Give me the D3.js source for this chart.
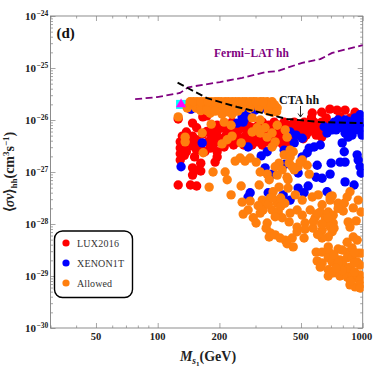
<!DOCTYPE html>
<html><head><meta charset="utf-8">
<script src="https://cdn.jsdelivr.net/npm/d3@7"></script>
<style>html,body{margin:0;padding:0;background:#fff}svg{display:block}text{font-family:"Liberation Serif",serif}</style>
</head><body><svg id="c" width="374" height="370"></svg>
<script>
// values are [log10(mass / GeV), log10(<sigma v> / cm^3 s^-1)]
const fermiLine=[[1.89,-25.60],[1.997,-25.56],[2.109,-25.48],[2.149,-25.37],[2.304,-25.27],[2.412,-25.19],[2.524,-25.08],[2.583,-25.06],[2.705,-24.90],[2.793,-24.83],[2.851,-24.71],[3,-24.56]];
const ctaLine=[[2.097,-25.28],[2.144,-25.38],[2.241,-25.58],[2.388,-25.75],[2.548,-25.90],[2.631,-25.98],[2.793,-26.04],[3,-26.06]];
const redPoints=[[2.10,-25.98],[2.10,-27.25],[2.16,-27.25],[2.19,-27.27],[2.17,-27.06],[2.20,-26.96],[2.17,-26.92],[2.21,-26.98],[2.18,-26.71],[2.21,-26.83],[2.28,-26.81],[2.29,-26.61],[2.29,-26.71],[2.23,-26.61],[2.17,-26.06],[2.19,-26.15],[2.22,-25.94],[2.24,-25.92],[2.16,-25.79],
[2.11,-26.77],[2.11,-26.65],[2.11,-26.54],[2.11,-26.42],[2.12,-26.31],[2.14,-26.23],[2.13,-26.50],[2.15,-26.38],[2.14,-26.61],[2.17,-26.31],[2.17,-26.50],[2.19,-26.38],[2.19,-26.58],[2.22,-26.27],[2.25,-26.23],
[2.266,-26.15],[2.314,-26.15],[2.363,-26.15],[2.412,-26.15],[2.461,-26.15],[2.510,-26.15],[2.558,-26.15],[2.607,-26.15],[2.656,-26.15],[2.705,-26.15],[2.754,-26.15],
[2.285,-26.29],[2.334,-26.29],[2.383,-26.29],[2.431,-26.29],[2.480,-26.29],[2.529,-26.29],[2.578,-26.29],[2.627,-26.29],[2.675,-26.29],[2.724,-26.29],[2.773,-26.29],
[2.246,-26.42],[2.295,-26.42],[2.344,-26.42],[2.392,-26.42],[2.441,-26.42],[2.490,-26.42],[2.539,-26.42],[2.588,-26.42],[2.637,-26.42],
[2.363,-26.04],[2.426,-26.04],[2.51,-26.04],[2.568,-26.04],[2.617,-26.04],[2.666,-26.04],[2.715,-26.04],[2.763,-26.04],[2.80,-26.04],
[2.256,-26.54],[2.324,-26.52],[2.51,-26.48],[2.612,-26.48],[2.80,-26.33],[2.817,-26.10],[2.75,-25.96],
[2.754,-25.865],[2.80,-25.85],[2.84,-25.79],[2.875,-25.81],[2.914,-25.81],[2.963,-25.85],[2.822,-25.96],[2.89,-25.94],[2.94,-25.96],
[2.29,-26.10],[2.34,-26.10],[2.39,-26.10],[2.44,-26.10],[2.49,-26.10],[2.54,-26.10],[2.59,-26.10],[2.64,-26.10],[2.69,-26.10],[2.74,-26.10],[2.78,-26.10],
[2.24,-26.22],[2.29,-26.22],[2.34,-26.22],[2.39,-26.22],[2.44,-26.22],[2.49,-26.22],[2.54,-26.22],[2.59,-26.22],[2.64,-26.22],[2.69,-26.22],[2.74,-26.22],[2.79,-26.22],
[2.26,-26.36],[2.31,-26.36],[2.36,-26.36],[2.41,-26.36],[2.46,-26.36],[2.51,-26.36],[2.56,-26.36],[2.61,-26.36],[2.66,-26.36],[2.71,-26.36],
[2.27,-26.48],[2.32,-26.48],[2.37,-26.48],[2.42,-26.48],[2.46,-26.48],[2.56,-26.48],
[2.13,-26.36],[2.13,-26.68],[2.16,-26.44],[2.21,-26.44],[2.21,-26.52]];
const bluePoints=[[2.114,-26.90],[2.163,-25.79],[2.217,-26.44],[2.441,-26.52],[2.412,-25.94],[2.388,-26.06],[2.417,-26.04],[2.441,-25.94],[2.353,-25.77],[2.42,-25.865],[2.475,-25.81],[2.51,-25.77],[2.534,-26.61],[2.505,-26.69],[2.524,-26.92],[2.558,-27.04],[2.622,-26.85],[2.617,-26.58],[2.646,-26.23],[2.675,-26.29],[2.705,-26.35],[2.666,-26.44],[2.739,-26.54],[2.763,-26.52],[2.793,-26.48],[2.685,-27.02],[2.705,-26.71],[2.729,-26.63],[2.778,-26.87],[2.846,-26.83],[2.841,-27.04],[2.802,-27.12],[2.773,-27.10],[2.89,-26.81],[2.914,-26.81],[2.914,-27.19],[2.958,-27.25],[2.978,-26.77],[2.992,-27.02],[2.973,-26.67],[2.90,-26.44],[2.91,-26.61],[2.987,-26.90],[2.734,-27.27],[2.685,-27.31],[2.714,-27.40],[2.612,-27.44],[2.646,-27.54],[2.826,-27.38],[2.539,-27.40],[2.451,-27.40],[2.441,-27.48],[2.812,-26.13],[2.826,-26.25],[2.851,-26.19],
[2.889,-26.10],[2.914,-26.0],[2.938,-26.15],[2.963,-25.96],[2.987,-25.90],[2.997,-26.04],[2.978,-26.19],[2.914,-26.25],[2.870,-26.19],[2.948,-26.29],[2.997,-26.29],[2.90,-26.15],[2.929,-26.33],[2.88,-26.0],[2.968,-26.10],[2.861,-26.04],[2.93,-26.03],[2.95,-26.2],[2.88,-26.1],[2.99,-26.15],[2.92,-26.17],[2.85,-26.1]];
const orangePoints=[[2.158,-25.65],[2.192,-25.65],[2.227,-25.65],[2.261,-25.65],[2.295,-25.65],[2.329,-25.65],[2.363,-25.65],[2.397,-25.65],[2.431,-25.65],[2.466,-25.65],[2.5,-25.65],[2.534,-25.65],[2.558,-25.65],
[2.144,-25.77],[2.187,-25.77],[2.231,-25.77],[2.275,-25.77],[2.319,-25.77],[2.363,-25.77],[2.407,-25.77],[2.451,-25.77],[2.495,-25.77],[2.539,-25.77],[2.583,-25.77],
[2.256,-25.87],[2.314,-25.89],[2.363,-25.89],[2.558,-25.85],
[2.176,-25.71],[2.21,-25.71],[2.25,-25.71],[2.29,-25.71],[2.33,-25.71],[2.37,-25.71],[2.41,-25.71],[2.45,-25.71],[2.49,-25.71],[2.53,-25.71],[2.57,-25.71],
[2.175,-25.65],[2.21,-25.65],[2.245,-25.65],[2.28,-25.65],[2.31,-25.65],[2.345,-25.65],[2.38,-25.65],[2.415,-25.65],[2.45,-25.65],[2.48,-25.65],[2.515,-25.65],
[2.21,-25.82],[2.24,-25.82],[2.28,-25.83],[2.34,-25.84],[2.39,-25.83],[2.54,-25.83],[2.58,-25.84],
[2.10,-25.94],[2.217,-26.25],[2.134,-26.33],[2.134,-26.42],[2.222,-26.63],[2.261,-26.08],[2.324,-26.04],[2.358,-26.10],[2.314,-26.46],[2.339,-26.38],[2.363,-26.31],[2.407,-26.44],[2.402,-26.73],[2.378,-26.79],[2.426,-26.79],[2.451,-26.73],[2.27,-27.0],[2.329,-27.0],[2.339,-27.15],[2.251,-27.29],[2.407,-27.27],[2.358,-27.44],[2.412,-27.58],[2.417,-27.81],[2.441,-27.73],[2.461,-25.96],[2.5,-26.0],[2.524,-26.15],[2.485,-26.15],[2.583,-26.10],[2.558,-26.25],[2.622,-26.19],[2.631,-26.33],[2.534,-26.33],[2.5,-26.25],[2.461,-26.23],[2.573,-26.42],[2.558,-26.52],[2.617,-26.67],[2.646,-26.58],[2.641,-26.83],[2.666,-26.96],[2.705,-26.77],[2.729,-26.87],[2.685,-26.90],[2.646,-26.71],[2.592,-26.83],[2.573,-26.90],[2.583,-27.06],[2.631,-27.10],[2.739,-27.04],[2.48,-26.81],[2.5,-27.0],[2.534,-27.04],[2.607,-26.96],[2.661,-26.61],[2.695,-26.81],[2.656,-26.90],[2.636,-27.15],[2.636,-27.31],[2.592,-27.29],[2.563,-27.38],[2.495,-27.25],[2.544,-27.15],[2.671,-27.44],[2.705,-27.54],[2.754,-27.48],[2.783,-27.44],[2.841,-27.48],[2.938,-27.38],[2.924,-27.48],[2.978,-27.54],[2.954,-27.69],[2.992,-27.77],
[2.451,-27.56],[2.5,-27.79],[2.466,-27.88],[2.48,-27.98],[2.51,-27.54],[2.524,-27.63],[2.549,-27.50],[2.583,-27.60],[2.514,-27.73],[2.558,-27.73],[2.588,-27.77],[2.607,-27.88],[2.573,-27.86],[2.646,-27.79],[2.68,-27.73],[2.705,-27.83],[2.744,-27.73],[2.768,-27.88],[2.802,-27.63],[2.793,-27.77],[2.832,-27.77],[2.856,-27.83],[2.817,-27.88],[2.641,-27.96],[2.68,-28.06],[2.68,-28.15],[2.719,-27.98],[2.719,-28.10],[2.758,-28.08],[2.802,-28.12],[2.826,-27.98],[2.856,-27.98],[2.851,-28.15],[2.832,-28.25],[2.802,-28.27],[2.714,-28.27],[2.534,-27.98],[2.529,-28.08],[2.549,-28.17],[2.544,-28.25],[2.573,-28.21],[2.597,-28.27],[2.622,-28.31],[2.656,-28.27],[2.631,-28.38],[2.661,-28.44],[2.929,-27.96],[2.938,-28.06],[2.968,-27.94],[2.88,-27.60],[2.91,-27.60],[2.905,-27.75],[2.841,-27.54],[2.851,-27.46],[2.954,-28.25],[2.924,-28.35],[2.973,-28.31],[2.88,-28.48],[2.832,-28.44],[2.773,-28.54],[2.802,-28.54],[2.841,-28.56],[2.832,-28.65],[2.778,-28.71],[2.802,-28.75],[2.793,-28.83],[2.851,-28.73],[2.889,-28.69],[2.924,-28.54],[2.948,-28.46],[2.924,-28.65],[2.948,-28.65],[2.978,-28.56],[2.992,-28.56],[2.973,-28.73],[2.905,-28.79],[2.938,-28.83],[2.987,-28.79],[2.832,-28.88],[2.832,-29.0],[2.856,-28.94],[2.889,-29.0],[2.924,-28.88],[2.924,-29.02],[2.948,-29.02],[2.963,-29.04],[2.987,-28.98],[2.987,-29.08],[2.938,-29.17],[2.963,-29.21],[2.987,-29.17],[2.987,-29.23],
[2.54,-27.62],[2.6,-27.66],[2.62,-27.6],[2.56,-27.5],[2.49,-27.65],[2.6,-27.5],
[2.86,-28.6],[2.88,-28.75],[2.9,-28.5],[2.96,-28.55],[2.96,-28.75],[2.9,-28.9],[2.87,-28.85],[2.96,-28.92],[2.94,-29.1],
[2.83,-27.88],[2.84,-28.05],[2.88,-27.7],[2.78,-27.8],[2.8,-28.0],[2.76,-27.95],[2.86,-28.08],[2.78,-28.2]];
const benchmark=[2.114,-25.70];
const xMajor=[50,100,200,500,1000];
const xMinor=[30,40,60,70,80,90,300,400,600,700,800,900];
const yExponents=[-24,-25,-26,-27,-28,-29,-30];
const legendItems=[["LUX2016","#ff0000"],["XENON1T","#0000ff"],["Allowed","#ff7f0e"]];

const L=50.5,R=362.7,T=16,B=328;
const x=d3.scaleLog().domain([30,1000]).range([L,R]);
const y=d3.scaleLog().domain([1e-30,1e-24]).range([B,T]);
const px=d=>x(Math.pow(10,d[0])), py=d=>y(Math.pow(10,d[1]));
const svg=d3.select("#c");
const AX="#808080";
svg.append("defs").append("clipPath").attr("id","plot").append("rect").attr("x",L).attr("y",T).attr("width",R-L+1).attr("height",B-T);

const yMinor=[];yExponents.slice(1).forEach(e=>{for(let k=2;k<10;k++)yMinor.push(k*Math.pow(10,e));});
function axisG(a,tr){const g=svg.append("g").attr("transform",tr).call(a);
  g.selectAll("path.domain").remove();g.selectAll("line").attr("stroke",AX).attr("stroke-width",0.7);g.selectAll("text").remove();return g;}
const empty=()=>"";
axisG(d3.axisBottom(x).tickValues(xMajor).tickSize(-5).tickFormat(empty),`translate(0,${B})`);
axisG(d3.axisBottom(x).tickValues(xMinor).tickSize(-2.5).tickFormat(empty),`translate(0,${B})`);
axisG(d3.axisTop(x).tickValues(xMajor).tickSize(-5).tickFormat(empty),`translate(0,${T})`);
axisG(d3.axisTop(x).tickValues(xMinor).tickSize(-2.5).tickFormat(empty),`translate(0,${T})`);
const yMajor=yExponents.map(e=>Math.pow(10,e));
axisG(d3.axisLeft(y).tickValues(yMajor).tickSize(-5).tickFormat(empty),`translate(${L},0)`);
axisG(d3.axisLeft(y).tickValues(yMinor).tickSize(-2.5).tickFormat(empty),`translate(${L},0)`);
axisG(d3.axisRight(y).tickValues(yMajor).tickSize(-5).tickFormat(empty),`translate(${R},0)`);
axisG(d3.axisRight(y).tickValues(yMinor).tickSize(-2.5).tickFormat(empty),`translate(${R},0)`);
svg.append("rect").attr("x",L).attr("y",T).attr("width",R-L).attr("height",B-T).attr("fill","none").attr("stroke",AX).attr("stroke-width",0.9);

const data=svg.append("g").attr("clip-path","url(#plot)");
const RAD=4.7;
[[redPoints,"#ff0000"],[bluePoints,"#0000ff"]].forEach(([arr,c])=>{
  data.append("g").selectAll("circle").data(arr).join("circle").attr("cx",px).attr("cy",py).attr("r",RAD).attr("fill",c);});
data.append("rect").attr("x",px(benchmark)-5).attr("y",py(benchmark)-4.5).attr("width",10).attr("height",9).attr("fill","#00ffff");
data.append("g").selectAll("circle").data(orangePoints).join("circle").attr("cx",px).attr("cy",py).attr("r",RAD).attr("fill","#ff7f0e");
data.append("path").attr("d",d3.symbol(d3.symbolTriangle,45)()).attr("transform",`translate(${px(benchmark)},${py(benchmark)})`).attr("fill","#ff00ff");

const line=d3.line().x(px).y(py);
data.append("path").datum(fermiLine).attr("d",line).attr("fill","none").attr("stroke","#800080").attr("stroke-width",1.8).attr("stroke-dasharray","7 3.5");
data.append("path").datum(ctaLine).attr("d",line).attr("fill","none").attr("stroke","#000").attr("stroke-width",1.9).attr("stroke-dasharray","7 3.5");

// tick labels
svg.append("g").selectAll("text").data(xMajor).join("text").attr("x",d=>d===1000?x(d)-1:x(d)).attr("y",340).attr("text-anchor","middle").attr("font-size",10.5).attr("font-weight","bold").attr("fill","#222").text(d=>d);
const yl=svg.append("g").selectAll("text").data(yExponents).join("text").attr("x",25).attr("y",e=>y(Math.pow(10,e))+3.5).attr("font-size",11).attr("font-weight","bold").attr("fill","#222");
yl.append("tspan").text("10");
yl.append("tspan").attr("font-size",7.5).attr("dy",-4).attr("dx",0.5).text(e=>"\u2212"+Math.abs(e));

// titles
const yt=svg.append("text").attr("transform","translate(14,172) rotate(-90)").attr("text-anchor","middle").attr("font-size",14).attr("font-weight","bold").attr("fill","#222");
yt.append("tspan").text("\u27E8");
yt.append("tspan").attr("font-style","italic").text("\u03C3v");
yt.append("tspan").text("\u27E9");
yt.append("tspan").attr("font-size",9).attr("dy",3).text("hh");
yt.append("tspan").attr("dy",-3).text("(cm");
yt.append("tspan").attr("font-size",9).attr("dy",-5).text("3");
yt.append("tspan").attr("dy",5).text("s");
yt.append("tspan").attr("font-size",9).attr("dy",-5).text("\u22121");
yt.append("tspan").attr("dy",5).text(")");
const xt=svg.append("text").attr("x",208).attr("y",361).attr("text-anchor","middle").attr("font-size",14).attr("font-weight","bold").attr("fill","#222");
xt.append("tspan").attr("font-style","italic").text("M");
xt.append("tspan").attr("font-style","italic").attr("font-size",9.5).attr("dy",3).text("s");
xt.append("tspan").attr("font-size",7).attr("dy",2).text("1");
xt.append("tspan").attr("dy",-5).text("(GeV)");

// annotations
svg.append("text").attr("x",56.5).attr("y",38).attr("font-size",15).attr("font-weight","bold").attr("fill","#111").text("(d)");
svg.append("text").attr("x",214).attr("y",57).attr("font-size",11.5).attr("font-weight","bold").attr("fill","#800080").text("Fermi\u2212LAT hh");
svg.append("text").attr("x",279).attr("y",104).attr("font-size",12).attr("font-weight","bold").attr("fill","#111").text("CTA hh");
svg.append("path").attr("d","M300.5 106V116.5M298 113.5L300.5 117L303 113.5").attr("fill","none").attr("stroke","#111").attr("stroke-width",0.9);

// legend
svg.append("rect").attr("x",54.5).attr("y",231).attr("width",78).attr("height",66.5).attr("rx",8).attr("fill","#fff").attr("stroke","#000").attr("stroke-width",1.4);
const lg=svg.append("g").selectAll("g").data(legendItems).join("g").attr("transform",(d,i)=>`translate(0,${243+i*20})`);
lg.append("circle").attr("cx",66).attr("r",3.6).attr("fill",d=>d[1]);
lg.append("text").attr("x",77).attr("y",3.5).attr("font-size",10).attr("fill","#333").attr("textLength",d=>d[0]==="XENON1T"?47:d[0]==="LUX2016"?42:35).text(d=>d[0]);
</script></body></html>
